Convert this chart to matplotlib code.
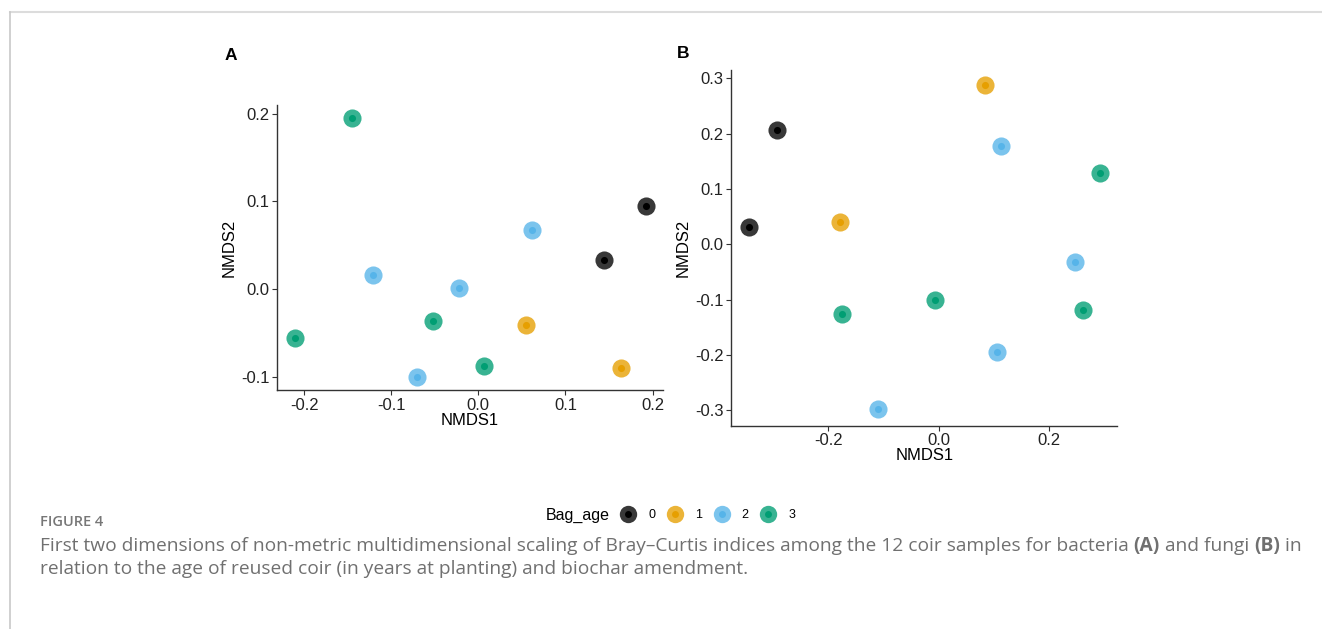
import matplotlib
matplotlib.use("Agg")
import matplotlib.pyplot as plt
from matplotlib.lines import Line2D

plt.rcParams['font.family'] = ['Liberation Sans', 'DejaVu Sans']

# Okabe-Ito style colours for bag age groups
ages = ['0', '1', '2', '3']
colors = {'0': '#000000', '1': '#E69F00', '2': '#56B4E9', '3': '#009E73'}

# Panel A - bacteria
a_x = [0.1924, 0.1442, 0.0543, 0.1640, -0.1208, -0.0222, -0.0707, 0.0620,
       -0.1446, -0.2103, -0.0524, 0.0065]
a_y = [0.0952, 0.0328, -0.0404, -0.0895, 0.0164, 0.0008, -0.1006, 0.0670,
       0.1954, -0.0552, -0.0366, -0.0880]
a_age = ['0', '0', '1', '1', '2', '2', '2', '2', '3', '3', '3', '3']

# Panel B - fungi
b_x = [-0.3439, -0.2932, 0.0833, -0.1786, 0.1128, 0.2468, 0.1050, -0.1092,
       0.2926, -0.1744, -0.0072, 0.2606]
b_y = [0.0307, 0.2060, 0.2873, 0.0398, 0.1783, -0.0319, -0.1946, -0.2982,
       0.1295, -0.1253, -0.1006, -0.1181]
b_age = ['0', '0', '1', '1', '2', '2', '2', '2', '3', '3', '3', '3']

W, H = 1322, 629
fig = plt.figure(figsize=(W / 100, H / 100), dpi=100)

# light page frame
fig.add_artist(Line2D([9.5 / W, 1], [1 - 12 / H, 1 - 12 / H], color='#dcdcdc', lw=1.5))
fig.add_artist(Line2D([9.5 / W, 9.5 / W], [0, 1 - 12 / H], color='#c8c8c8', lw=1.2))


def nmds_panel(ax, xs, ys, grp, xlim, ylim, xticks, yticks):
    for x, y, g in zip(xs, ys, grp):
        ax.scatter(x, y, s=170, color=colors[g], alpha=0.78, lw=0, zorder=2)
        ax.scatter(x, y, s=26, color=colors[g], lw=0, zorder=3)
    ax.set_xlim(xlim)
    ax.set_ylim(ylim)
    ax.set_xticks(xticks)
    ax.set_yticks(yticks)
    ax.set_xticklabels(['%.1f' % t for t in xticks])
    ax.set_yticklabels(['%.1f' % t for t in yticks])
    for s in ['top', 'right']:
        ax.spines[s].set_visible(False)
    for s in ['left', 'bottom']:
        ax.spines[s].set_color('#333333')
        ax.spines[s].set_linewidth(1.0)
    ax.tick_params(length=3.5, width=0.8, color='#333333', labelsize=12, labelcolor='#222222', pad=2)
    ax.set_xlabel('NMDS1', fontsize=12, labelpad=0)
    ax.set_ylabel('NMDS2', fontsize=12, labelpad=3)


ax1 = fig.add_axes([0.2095, 0.380, 0.292, 0.453])
nmds_panel(ax1, a_x, a_y, a_age, (-0.2313, 0.212), (-0.115, 0.21),
           [-0.2, -0.1, 0.0, 0.1, 0.2], [-0.1, 0.0, 0.1, 0.2])

ax2 = fig.add_axes([0.553, 0.3232, 0.2922, 0.5655])
nmds_panel(ax2, b_x, b_y, b_age, (-0.3759, 0.3234), (-0.3277, 0.315),
           [-0.2, 0.0, 0.2], [-0.3, -0.2, -0.1, 0.0, 0.1, 0.2, 0.3])

fig.text(225 / W, 1 - 55 / H, 'A', fontsize=12.5, fontweight='bold', va='center', ha='left')
fig.text(677 / W, 1 - 53 / H, 'B', fontsize=12.5, fontweight='bold', va='center', ha='left')

# legend
handles = []
for g in ages:
    outer = Line2D([], [], marker='o', ls='', ms=12.5, color=colors[g], alpha=0.78, mew=0)
    inner = Line2D([], [], marker='o', ls='', ms=5, color=colors[g], mew=0)
    handles.append((outer, inner))
fig.text(546 / W, 1 - 515 / H, 'Bag_age', fontsize=11.5, va='center', ha='left')
fig.legend(handles, ages, loc='center left', bbox_to_anchor=(622 / W, 1 - 515 / H),
           ncol=4, frameon=False, fontsize=9, handlelength=1.0, handletextpad=1.1,
           columnspacing=1.07, borderpad=0, borderaxespad=0)

# caption
cap_kw = dict(fontsize=13.8, color='#707070', family='Open Sans', va='center')
fig.text(40 / W, 1 - 522 / H, 'FIGURE 4', fontsize=10.5, color='#777777',
         family='Open Sans', fontweight='semibold', va='center')
cap_line1 = ('First two dimensions of non-metric multidimensional scaling of Bray\u2013Curtis indices '
             'among the 12 coir samples for bacteria ')
t = fig.text(40 / W, 1 - 546 / H, cap_line1, **cap_kw)
fig.canvas.draw()
x = t.get_window_extent().x1
for piece, w in [('(A)', 'bold'), (' and fungi ', 'normal'), ('(B)', 'bold'), (' in', 'normal')]:
    tt = fig.text(x / W, 1 - 546 / H, piece, fontweight=w, **cap_kw)
    fig.canvas.draw()
    x = tt.get_window_extent().x1
fig.text(40 / W, 1 - 569 / H,
         'relation to the age of reused coir (in years at planting) and biochar amendment.', **cap_kw)

fig.savefig('out.png', dpi=100)
